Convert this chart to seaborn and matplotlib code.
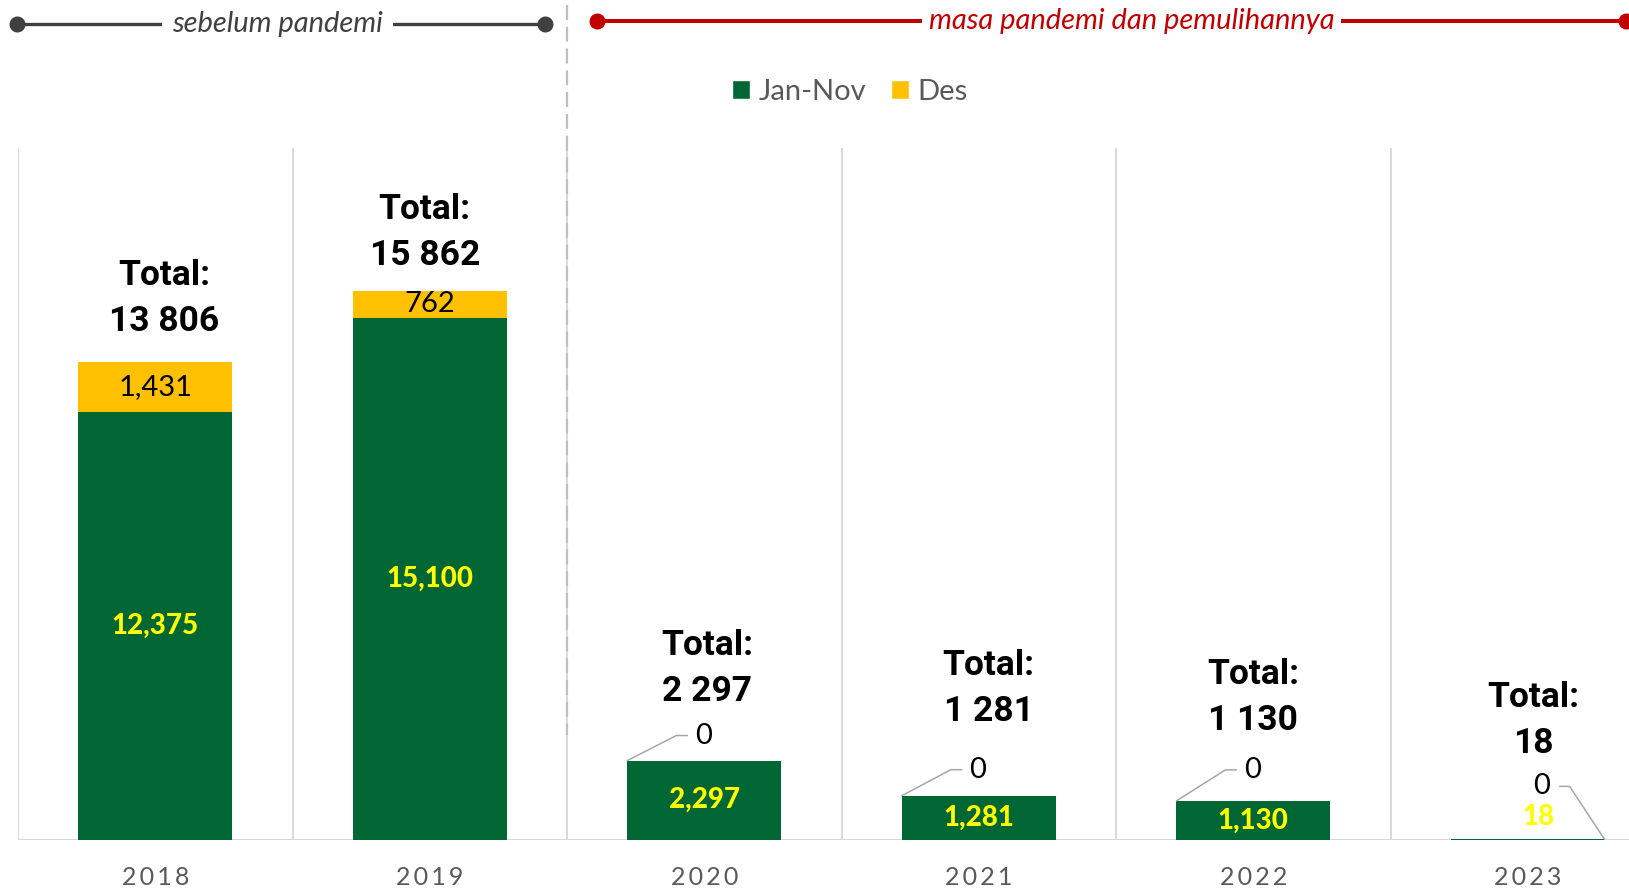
import matplotlib
matplotlib.use("Agg")
import matplotlib.pyplot as plt
import matplotlib.transforms as mtransforms
from matplotlib.lines import Line2D
from matplotlib.patches import Patch
import numpy as np
import pandas as pd
import seaborn as sns

# ---- data -------------------------------------------------------------
years = ["2018", "2019", "2020", "2021", "2022", "2023"]
jan_nov = [12375, 15100, 2297, 1281, 1130, 18]
des = [1431, 762, 0, 0, 0, 0]
totals = [a + b for a, b in zip(jan_nov, des)]
series_names = ["Jan-Nov", "Des"]
period_labels = ["sebelum pandemi", "masa pandemi dan pemulihannya"]

# ---- style ------------------------------------------------------------
GREEN = "#006633"
GOLD = "#FFC000"
GRID = "#D9D9D9"
TICK = "#595959"
DARK = "#404040"
RED = "#C00000"
LEADER = "#A6A6A6"

sns.set_theme(style="white")
plt.rcParams["font.family"] = ["Lato", "DejaVu Sans"]
TOTAL_FONT = ["Roboto", "DejaVu Sans"]

W, H = 1629, 890
fig = plt.figure(figsize=(W / 100, H / 100), dpi=100)
fig.patch.set_facecolor("white")
slot = 274.5  # pixel width of one year slot
ax = fig.add_axes([18 / W, 50 / H, 6 * slot / W, 692 / H])
ax.set_facecolor("white")

df = pd.DataFrame({"year": years, "jan_nov": jan_nov, "des": des, "total": totals})

# stacked columns: full total in gold, Jan-Nov share in green on top
sns.barplot(data=df, x="year", y="total", color=GOLD, width=0.56, saturation=1,
            errorbar=None, linewidth=0, ax=ax, zorder=3)
sns.barplot(data=df, x="year", y="jan_nov", color=GREEN, width=0.56, saturation=1,
            errorbar=None, linewidth=0, ax=ax, zorder=3)

ax.set_xlim(-0.5, 5.5)
ax.set_ylim(0, 20000)
for s in ax.spines.values():
    s.set_visible(False)
ax.set_yticks([])
ax.set_xlabel("")
ax.set_ylabel("")

# slot separators and baseline
for b in np.arange(-0.5, 5.5, 1.0):
    ax.axvline(b, color=GRID, lw=1.4, zorder=1)
ax.axhline(0, color=GRID, lw=1.6, zorder=2)

ax.set_xticks(range(len(years)))
ax.set_xticklabels(["\u2009".join(y) for y in years], fontsize=18, color=TICK)
ax.tick_params(axis="x", length=0, pad=19)


def shifted(x, y, dx, dy):
    X, Y = ax.transData.transform((x, y))
    return ax.transData.inverted().transform((X + dx, Y + dy))


# Jan-Nov values inside the green segments
jan_shift = [(0, 0), (0, 0), (0, 0), (0, 0), (0, 0), (11, 23)]
for i, v in enumerate(jan_nov):
    dx, dy = jan_shift[i]
    ax.annotate(f"{v:,}", xy=(i, v / 2), xytext=(dx, dy), textcoords="offset pixels",
                ha="center", va="center", fontsize=20, fontweight="black",
                color="#FFFF00", zorder=6)

# December values
for i, v in enumerate(des):
    if v > 0:
        ax.annotate(f"{v:,}", xy=(i, jan_nov[i] + v / 2), ha="center", va="center",
                    fontsize=21, color="black", zorder=6)

# zero-value December labels with leader lines
half = 0.28
zero_rise = {2: 25, 3: 26, 4: 31}
for i, rise in zero_rise.items():
    x0, y0 = i - half, totals[i]
    p1 = shifted(x0, y0, 49, rise)
    p2 = shifted(x0, y0, 60, rise)
    ax.plot([x0, p1[0], p2[0]], [y0, p1[1], p2[1]], color=LEADER, lw=1.1,
            clip_on=False, zorder=5)
    ax.annotate(f"{des[i]:,}", xy=(x0, y0), xytext=(76, rise), textcoords="offset pixels",
                ha="center", va="center", fontsize=21, color="black", zorder=6)
# last year: label sits to the upper left of the column's right edge
x0, y0 = 5 + half, totals[5]
p1 = shifted(x0, y0, -35, 53)
p2 = shifted(x0, y0, -45, 53)
ax.plot([x0, p1[0], p2[0]], [y0, p1[1], p2[1]], color=LEADER, lw=1.1,
        clip_on=False, zorder=5)
ax.annotate(f"{des[5]:,}", xy=(x0, y0), xytext=(-63, 53), textcoords="offset pixels",
            ha="center", va="center", fontsize=21, color="black", zorder=6)

# totals above each column
total_shift = [(9, 64), (-5, 59), (3, 92), (10, 107.5), (0, 103.5), (5.5, 118.5)]
for i, t in enumerate(totals):
    dx, rise = total_shift[i]
    ax.annotate("Total:", xy=(i, t), xytext=(dx, rise + 23), textcoords="offset pixels",
                ha="center", va="center", fontsize=25.5, fontweight="bold",
                family=TOTAL_FONT, color="black", zorder=6)
    ax.annotate(f"{t:,}".replace(",", " "), xy=(i, t), xytext=(dx, rise - 23),
                textcoords="offset pixels", ha="center", va="center", fontsize=25.5,
                fontweight="bold", family=TOTAL_FONT, color="black", zorder=6)

# legend
fig.legend(handles=[Patch(facecolor=GREEN), Patch(facecolor=GOLD)], labels=series_names,
           loc="center", bbox_to_anchor=(850 / W, 1 - 92 / H), ncol=2, frameon=False,
           fontsize=21, handlelength=0.62, handleheight=0.62, handletextpad=0.28,
           columnspacing=0.86, labelcolor=TICK)

# period divider between 2019 and 2020
blend = mtransforms.blended_transform_factory(ax.transData, fig.transFigure)
ax.plot([1.5, 1.5], [1 - 5 / H, 1 - 735 / H], transform=blend, color="#BFBFBF",
        lw=1.6, linestyle=(0, (6.7, 3.1)), clip_on=False, zorder=2)

# period brackets
fig.add_artist(Line2D([17 / W, 545 / W], [1 - 24 / H, 1 - 24 / H], color=DARK, lw=2.4,
                      marker="o", ms=10.5, solid_capstyle="butt"))
fig.text(277.5 / W, 1 - 32 / H, period_labels[0], ha="center", va="baseline",
         fontsize=21, style="italic", color=DARK,
         bbox=dict(facecolor="white", edgecolor="none", pad=7))
fig.add_artist(Line2D([597 / W, 1626 / W], [1 - 21 / H, 1 - 21 / H], color=RED, lw=2.9,
                      marker="o", ms=10.5, solid_capstyle="butt"))
fig.text(1131.5 / W, 1 - 29 / H, period_labels[1], ha="center", va="baseline",
         fontsize=21, style="italic", color=RED,
         bbox=dict(facecolor="white", edgecolor="none", pad=5))

fig.savefig("out.png", dpi=100, facecolor="white")
